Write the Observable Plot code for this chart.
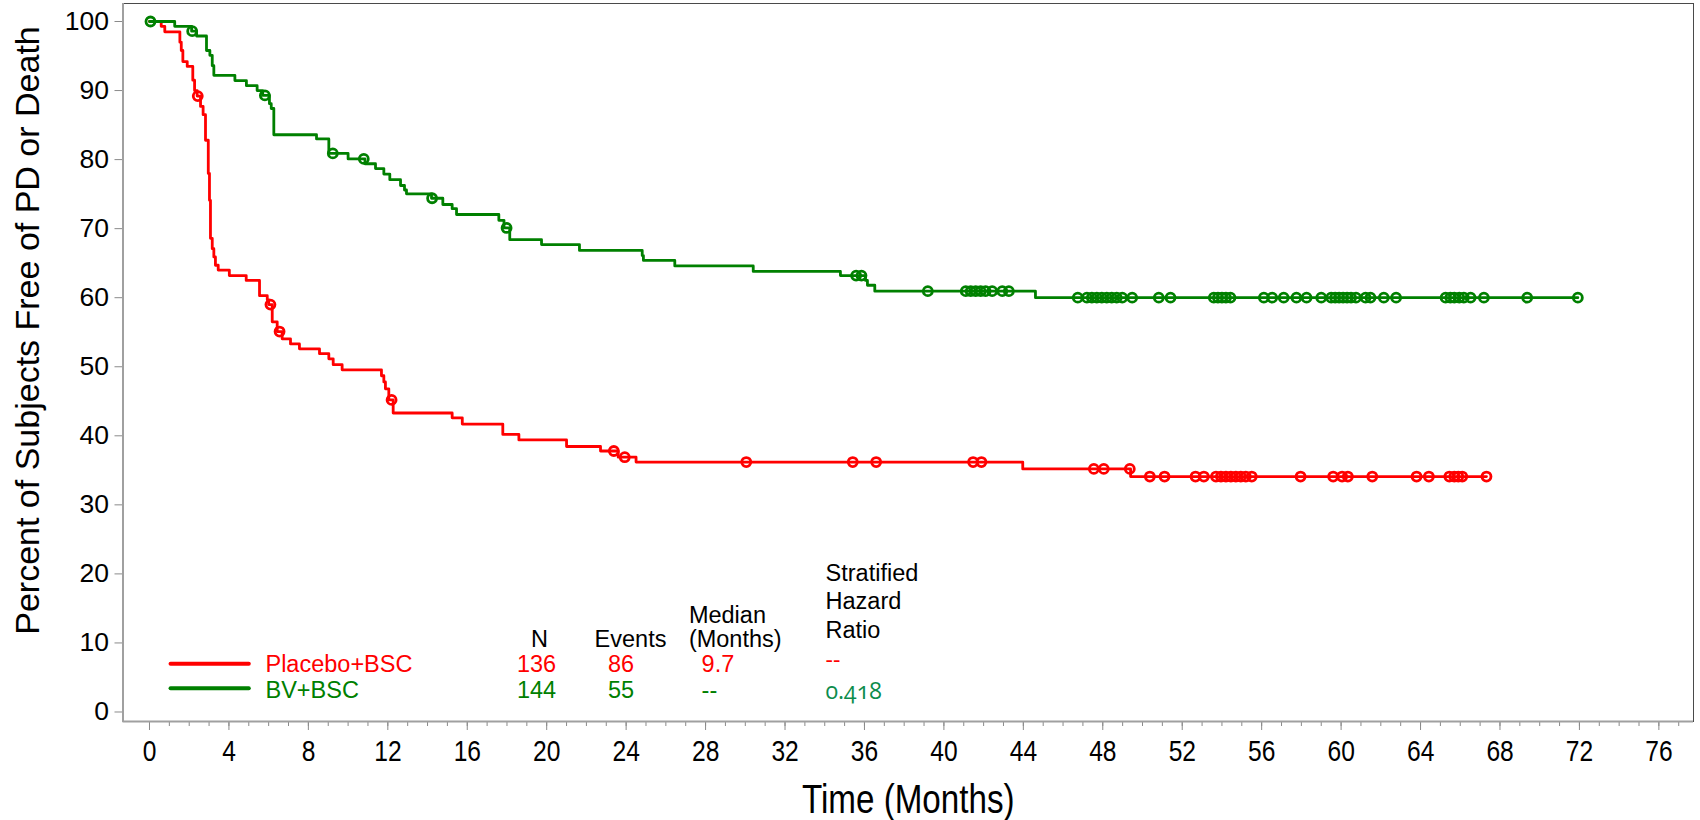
<!DOCTYPE html>
<html>
<head>
<meta charset="utf-8">
<script src="https://cdn.jsdelivr.net/npm/d3@7"></script>
<script src="https://cdn.jsdelivr.net/npm/@observablehq/plot@0.6"></script>
<style>
html, body { margin: 0; padding: 0; background: #fff; }
#chart { width: 1700px; height: 820px; }
</style>
</head>
<body>
<div id="chart"></div>
<script>
// ---------------- DATA ----------------
const groups = ["Placebo+BSC", "BV+BSC"];

// Placebo+BSC: Kaplan-Meier step times (months) and survival after each step (%)
const placeboStepTimes = [0.59, 0.77, 1.53, 1.60, 1.68, 1.90, 2.18, 2.27, 2.40, 2.57, 2.70, 2.82, 2.96, 3.02, 3.07, 3.16, 3.24, 3.32, 3.46, 4.02, 4.87, 5.54, 5.93, 6.00, 6.18, 6.43, 6.68, 7.10, 7.55, 8.56, 9.03, 9.25, 9.70, 11.68, 11.80, 11.88, 12.05, 12.27, 15.24, 15.75, 17.79, 18.60, 21.00, 22.71, 23.60, 24.50, 43.97, 49.40];
const placeboStepSurv  = [99.3, 98.5, 97.0, 95.8, 94.2, 93.5, 91.5, 90.0, 89.2, 87.7, 86.5, 82.8, 78.0, 74.1, 68.6, 67.1, 65.9, 64.7, 64.0, 63.2, 62.5, 60.3, 59.7, 59.0, 56.5, 55.1, 54.05, 53.3, 52.6, 51.9, 51.15, 50.3, 49.56, 48.7, 47.8, 46.8, 45.2, 43.3, 42.6, 41.7, 40.2, 39.4, 38.45, 37.8, 36.9, 36.2, 35.2, 34.1];
const placeboCensorTimes = [2.43, 6.09, 6.55, 12.19, 23.38, 23.93, 30.05, 35.41, 36.59, 41.47, 41.89, 47.55, 48.05, 49.36, 50.37, 51.11, 52.67, 53.09, 53.7, 53.95, 54.2, 54.45, 54.7, 54.95, 55.2, 55.5, 57.96, 59.6, 60.05, 60.34, 61.57, 63.8, 64.42, 65.45, 65.7, 65.9, 66.1, 67.32];

// BV+BSC
const bvStepTimes = [1.27, 2.12, 2.37, 2.87, 3.04, 3.16, 3.24, 4.30, 4.88, 5.42, 5.70, 6.04, 6.13, 6.26, 8.41, 9.03, 10.00, 10.85, 11.38, 11.80, 12.10, 12.64, 12.84, 12.94, 14.20, 14.77, 15.24, 15.46, 17.59, 17.85, 18.14, 19.74, 21.65, 24.81, 24.87, 26.45, 30.40, 34.79, 36.05, 36.15, 36.52, 44.61];
const bvStepSurv  = [99.3, 98.6, 97.9, 95.8, 95.1, 93.6, 92.2, 91.45, 90.7, 90.0, 89.3, 88.1, 87.4, 83.6, 83.0, 80.9, 80.1, 79.4, 78.7, 77.9, 77.1, 76.25, 75.6, 75.05, 74.4, 73.5, 72.9, 72.05, 71.2, 70.1, 68.4, 67.7, 66.85, 66.1, 65.4, 64.6, 63.8, 63.2, 62.5, 61.8, 60.95, 60.0];
const bvCensorTimes = [0.05, 2.15, 5.81, 9.23, 10.79, 14.23, 17.98, 35.58, 35.85, 39.19, 41.1, 41.35, 41.6, 41.85, 42.1, 42.43, 42.94, 43.27, 46.74, 47.2, 47.45, 47.7, 47.95, 48.2, 48.45, 48.7, 48.98, 49.48, 50.82, 51.41, 53.59, 53.8, 54.0, 54.2, 54.43, 56.11, 56.53, 57.11, 57.75, 58.26, 59.0, 59.5, 59.7, 59.9, 60.1, 60.3, 60.5, 60.75, 61.23, 61.48, 62.15, 62.77, 65.26, 65.5, 65.7, 65.95, 66.18, 66.52, 67.19, 69.37, 71.92];

// Axis ticks and labels
const xTickValues = [0, 4, 8, 12, 16, 20, 24, 28, 32, 36, 40, 44, 48, 52, 56, 60, 64, 68, 72, 76];
const xMinorTickValues = [0,1,2,3,4,5,6,7,8,9,10,11,12,13,14,15,16,17,18,19,20,21,22,23,24,25,26,27,28,29,30,31,32,33,34,35,36,37,38,39,40,41,42,43,44,45,46,47,48,49,50,51,52,53,54,55,56,57,58,59,60,61,62,63,64,65,66,67,68,69,70,71,72,73,74,75,76,77];
const yTickValues = [0, 10, 20, 30, 40, 50, 60, 70, 80, 90, 100];
const xTitle = "Time (Months)";
const yTitle = "Percent of Subjects Free of PD or Death";

// Statistics table
const nValues = ["136", "144"];
const eventValues = ["86", "55"];
const medianValues = ["9.7", "--"];
const hrValues = ["--", "0.418"];
const headerN = "N";
const headerEvents = "Events";
const headerMedian = ["Median", "(Months)"];
const headerHR = ["Stratified", "Hazard", "Ratio"];

// ---------------- STYLE / LAYOUT ----------------
const colors = ["#ff0000", "#008000"];
const hrColors = ["#ff0000", "#0c8c4c"];
const sans = "'Liberation Sans', Arial, Helvetica, sans-serif";
const hrFont = "'Open Sans', 'Noto Sans', sans-serif";
const xDomain = [-1.334, 77.744];
const yDomain = [-1.376, 102.607];

function buildCurve(times, surv, censors) {
  const pts = [{t: 0, s: 100}];
  times.forEach((t, i) => pts.push({t, s: surv[i]}));
  const end = Math.max(d3.max(censors), times[times.length - 1]);
  pts.push({t: end, s: surv[surv.length - 1]});
  return pts;
}
function survAt(times, surv, t) {
  let s = 100;
  for (let i = 0; i < times.length; i++) if (times[i] <= t) s = surv[i];
  return s;
}
const series = [
  {times: placeboStepTimes, surv: placeboStepSurv, censors: placeboCensorTimes},
  {times: bvStepTimes, surv: bvStepSurv, censors: bvCensorTimes}
];

const marks = [];
// axes: tick lines
marks.push(Plot.axisX({ticks: xMinorTickValues, tickSize: 5, tickFormat: () => "", stroke: "#8a8a8a", label: null}));
marks.push(Plot.axisX({ticks: xTickValues, tickSize: 9, tickFormat: () => "", stroke: "#8a8a8a", label: null}));
marks.push(Plot.axisY({ticks: yTickValues, tickSize: 8, tickFormat: () => "", stroke: "#8a8a8a", label: null}));
marks.push(Plot.frame({stroke: "#4a4a4a", strokeWidth: 1}));
marks.push(Plot.ruleX([xDomain[0]], {stroke: "#a0a0a0", strokeWidth: 2}));
marks.push(Plot.ruleY([yDomain[0]], {stroke: "#a0a0a0", strokeWidth: 2}));

// tick labels
marks.push(Plot.text(xTickValues, {x: d => d, y: yDomain[0], text: d => String(d), dy: 39, lineAnchor: "bottom",
  fontSize: 30, fontFamily: sans, fill: "#000"}));
marks.push(Plot.text(yTickValues, {x: xDomain[0], y: d => d, text: d => String(d), dx: -14, textAnchor: "end",
  fontSize: 26.5, fontFamily: sans, fill: "#000"}));
// axis titles
marks.push(Plot.text([xTitle], {x: 38.2, y: yDomain[0], text: d => d, dy: 91, lineAnchor: "bottom",
  fontSize: 40.5, fontFamily: sans, fill: "#000"}));
marks.push(Plot.text([yTitle], {x: xDomain[0], y: 55.25, text: d => d, rotate: -90, dx: -84, lineAnchor: "bottom",
  fontSize: 34, fontFamily: sans, fill: "#000"}));

// curves
series.forEach((sr, i) => {
  marks.push(Plot.line(buildCurve(sr.times, sr.surv, sr.censors), {x: "t", y: "s", curve: "step-after",
    stroke: colors[i], strokeWidth: 2.8}));
});
series.forEach((sr, i) => {
  marks.push(Plot.dot(sr.censors, {x: d => d, y: d => survAt(sr.times, sr.surv, d), r: 4.5,
    stroke: colors[i], strokeWidth: 2.8, fill: "none"}));
});

// legend / statistics table (placed in data coordinates)
const rowY = [5.76, 2.06];
const lineY = [6.98, 3.45];
const headerY = 9.35;
groups.forEach((g, i) => {
  marks.push(Plot.line([{t: 1.06, s: lineY[i]}, {t: 5.0, s: lineY[i]}], {x: "t", y: "s", stroke: colors[i], strokeWidth: 4}));
  marks.push(Plot.text([g], {x: 5.84, y: rowY[i], text: d => d, textAnchor: "start", lineAnchor: "bottom",
    fontSize: 23.5, fontFamily: sans, fill: colors[i]}));
  marks.push(Plot.text([nValues[i]], {x: 19.49, y: rowY[i], text: d => d, lineAnchor: "bottom",
    fontSize: 23.5, fontFamily: sans, fill: colors[i]}));
  marks.push(Plot.text([eventValues[i]], {x: 23.74, y: rowY[i], text: d => d, lineAnchor: "bottom",
    fontSize: 23.5, fontFamily: sans, fill: colors[i]}));
  marks.push(Plot.text([medianValues[i]], {x: 27.8, y: rowY[i], text: d => d, textAnchor: "start", lineAnchor: "bottom",
    fontSize: 23.5, fontFamily: sans, fill: colors[i]}));
  marks.push(Plot.text([hrValues[i]], {x: 34.04, y: i === 0 ? 6.3 : 1.91, text: d => d, textAnchor: "start", lineAnchor: "bottom",
    fontSize: 23, fontFamily: hrFont, fontVariant: "oldstyle-nums", fill: hrColors[i]}));
});
marks.push(Plot.text([headerN], {x: 19.64, y: headerY, text: d => d, lineAnchor: "bottom", fontSize: 23.5, fontFamily: sans, fill: "#000"}));
marks.push(Plot.text([headerEvents], {x: 24.22, y: headerY, text: d => d, lineAnchor: "bottom", fontSize: 23.5, fontFamily: sans, fill: "#000"}));
const medianY = [12.86, 9.45];
headerMedian.forEach((h, j) => marks.push(Plot.text([h], {x: 27.16, y: medianY[j], text: d => d, textAnchor: "start", lineAnchor: "bottom",
  fontSize: 23.5, fontFamily: sans, fill: "#000"})));
const hrHeadY = [19.04, 14.95, 10.75];
headerHR.forEach((h, j) => marks.push(Plot.text([h], {x: 34.04, y: hrHeadY[j], text: d => d, textAnchor: "start", lineAnchor: "bottom",
  fontSize: 23.5, fontFamily: sans, fill: "#000"})));

const chart = Plot.plot({
  width: 1700,
  height: 820,
  marginLeft: 122.5,
  marginRight: 7,
  marginTop: 3,
  marginBottom: 99,
  style: {background: "#fff", overflow: "visible", fontFamily: sans},
  x: {domain: xDomain, axis: null},
  y: {domain: yDomain, axis: null},
  marks
});
document.getElementById("chart").appendChild(chart);

// condensed look (Arial Narrow style) for the texts below the frame: x tick labels and x title
const svgBox = chart.getBoundingClientRect();
chart.querySelectorAll("text").forEach(t => {
  const b = t.getBoundingClientRect();
  if (b.top - svgBox.top > 725) {
    const cx = b.left - svgBox.left + b.width / 2;
    const tr = t.getAttribute("transform") || "";
    t.setAttribute("transform", `translate(${cx},0) scale(0.82,1) translate(${-cx},0) ${tr}`);
  }
});
</script>
</body>
</html>
